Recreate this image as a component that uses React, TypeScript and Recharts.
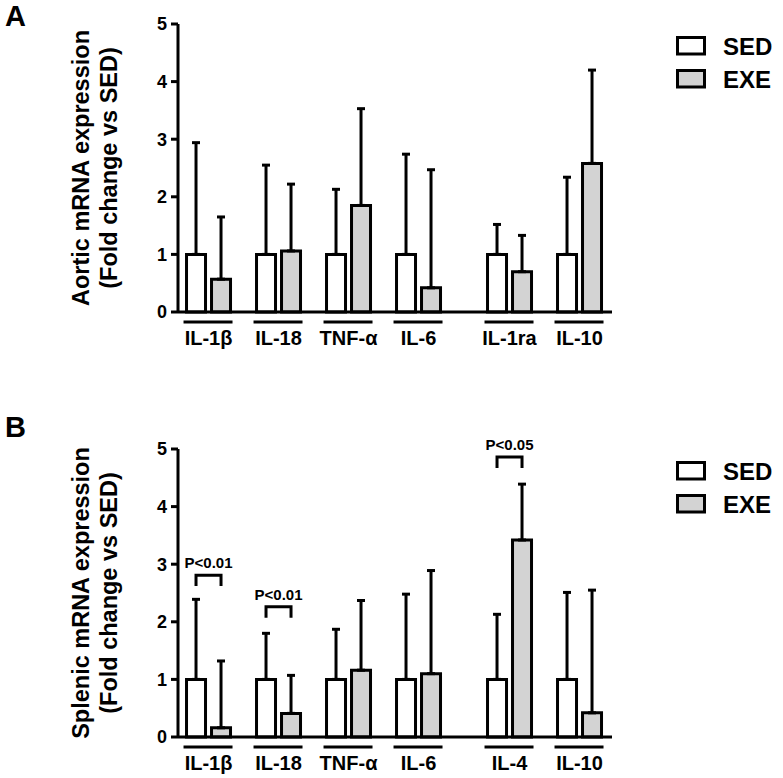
import React from "react";
import { Bar, BarChart, ErrorBar, LabelList, Legend, XAxis, YAxis } from "recharts";

const FONT = '"Liberation Sans", Arial, Helvetica, sans-serif';
const EXE_FILL = "#d3d3d3";
const BAR_SIZE = 19;
const BAR_GAP = 6;

// x slot of every cytokine group (the anti-inflammatory pair sits a bit apart)
const groupSlots = [0, 1, 2, 3, 4.3, 5.3];
const yTicks = [0, 1, 2, 3, 4, 5];
const legendOrder = ["SED", "EXE"];

// Panel A - aorta
const aorticCytokines = ["IL-1β", "IL-18", "TNF-α", "IL-6", "IL-1ra", "IL-10"];
const aorticSed = [1, 1, 1, 1, 1, 1];
const aorticSedTop = [2.94, 2.55, 2.13, 2.74, 1.52, 2.34];
const aorticExe = [0.57, 1.06, 1.85, 0.42, 0.7, 2.58];
const aorticExeTop = [1.65, 2.22, 3.53, 2.47, 1.33, 4.2];

// Panel B - spleen
const splenicCytokines = ["IL-1β", "IL-18", "TNF-α", "IL-6", "IL-4", "IL-10"];
const splenicSed = [1, 1, 1, 1, 1, 1];
const splenicSedTop = [2.39, 1.8, 1.87, 2.48, 2.13, 2.51];
const splenicExe = [0.16, 0.41, 1.16, 1.1, 3.42, 0.42];
const splenicExeTop = [1.32, 1.07, 2.37, 2.89, 4.39, 2.55];
const splenicPLabels = ["P<0.01", "P<0.01", "", "", "P<0.05", ""];
const splenicBracketTop = [2.81, 2.26, 0, 0, 4.86, 0];
const BRACKET_LEG = 0.19;

type Row = {
  slot: number;
  name: string;
  sed: number;
  sedErr: [number, number];
  exe: number;
  exeErr: [number, number];
};

function buildRows(names: string[], sed: number[], sedTop: number[], exe: number[], exeTop: number[]): Row[] {
  return names.map((name, i) => ({
    slot: groupSlots[i],
    name,
    sed: sed[i],
    sedErr: [0, sedTop[i] - sed[i]],
    exe: exe[i],
    exeErr: [0, exeTop[i] - exe[i]],
  }));
}

const aorticRows = buildRows(aorticCytokines, aorticSed, aorticSedTop, aorticExe, aorticExeTop);
const splenicRows = buildRows(splenicCytokines, splenicSed, splenicSedTop, splenicExe, splenicExeTop);

function PanelTitle(props: any) {
  const { letter, lines, letterY } = props;
  const vb = props.viewBox || { y: 0, height: 0 };
  const cy = vb.y + vb.height / 2;
  return (
    <g fontFamily={FONT} fontWeight="bold" fill="#000">
      <text x={5} y={letterY} fontSize={29}>
        {letter}
      </text>
      <text x={89} y={cy} fontSize={23.5} textAnchor="middle" transform={`rotate(-90 89 ${cy})`}>
        {lines[0]}
      </text>
      <text x={117} y={cy} fontSize={23.5} textAnchor="middle" transform={`rotate(-90 117 ${cy})`}>
        {lines[1]}
      </text>
    </g>
  );
}

function CytokineTick(props: any) {
  const { x, y, payload, names } = props;
  const idx = groupSlots.indexOf(payload.value);
  return (
    <g>
      <line x1={x - 25} x2={x + 24} y1={y + 10} y2={y + 10} stroke="#000" strokeWidth={3} />
      <text x={x} y={y + 33} textAnchor="middle" fontSize={20} fontWeight="bold" fontFamily={FONT} fill="#000">
        {names[idx]}
      </text>
    </g>
  );
}

// legend svg is padded by 6px above so the text box is not clipped
function LegendBox({ payload }: any) {
  const items = [...(payload || [])].sort(
    (a: any, b: any) => legendOrder.indexOf(a.value) - legendOrder.indexOf(b.value)
  );
  return (
    <svg width={102} height={64}>
      {items.map((entry: any, i: number) => (
        <g key={entry.value}>
          <rect x={1.5} y={7.5 + i * 33} width={27} height={16.5} fill={entry.color} stroke="#000" strokeWidth={3} />
          <text x={47} y={25 + i * 33} fontSize={24} fontWeight="bold" fontFamily={FONT} fill="#000">
            {entry.value}
          </text>
        </g>
      ))}
    </svg>
  );
}

function makeBracket(pLabels: string[], tops: number[]) {
  return (props: any) => {
    const { index, value } = props;
    if (!pLabels[index]) return null;
    const vb = props.viewBox || props;
    const base = vb.y + vb.height;
    const px = vb.height / value;
    const x1 = vb.x + vb.width / 2;
    const x2 = x1 + vb.width + BAR_GAP;
    const yTop = base - tops[index] * px;
    const yLeg = base - (tops[index] - BRACKET_LEG) * px;
    return (
      <g>
        <path d={`M${x1},${yLeg}V${yTop}H${x2}V${yLeg}`} fill="none" stroke="#000" strokeWidth={3} />
        <text x={(x1 + x2) / 2} y={yTop - 7} textAnchor="middle" fontSize={15} fontWeight="bold" fontFamily={FONT} fill="#000">
          {pLabels[index]}
        </text>
      </g>
    );
  };
}

function Panel(props: {
  rows: Row[];
  names: string[];
  height: number;
  marginTop: number;
  marginBottom: number;
  letter: string;
  letterY: number;
  titleLines: string[];
  legendTop: number;
  bracket?: (p: any) => any;
}) {
  const { rows, names, height, marginTop, marginBottom, letter, letterY, titleLines, legendTop, bracket } = props;
  return (
    <BarChart
      width={783}
      height={height}
      data={rows}
      margin={{ top: marginTop, right: 171, bottom: marginBottom, left: 118 }}
      barGap={BAR_GAP}
    >
      <XAxis
        dataKey="slot"
        type="number"
        domain={[-0.436, 5.764]}
        allowDataOverflow
        ticks={groupSlots}
        interval={0}
        height={40}
        tickLine={false}
        tickSize={0}
        tickMargin={0}
        axisLine={{ stroke: "#000", strokeWidth: 3 }}
        tick={<CytokineTick names={names} />}
      />
      <YAxis
        width={60}
        domain={[0, 5]}
        ticks={yTicks}
        interval={0}
        tickSize={7}
        tickMargin={4}
        axisLine={{ stroke: "#000", strokeWidth: 3 }}
        tickLine={{ stroke: "#000", strokeWidth: 3 }}
        tick={{ fontSize: 18, fontWeight: "bold", fill: "#000", fontFamily: FONT }}
        label={<PanelTitle letter={letter} letterY={letterY} lines={titleLines} />}
      />
      <Legend
        layout="vertical"
        align="center"
        verticalAlign="middle"
        content={<LegendBox />}
        wrapperStyle={{ left: 676, top: legendTop - 6, width: 102 }}
      />
      <Bar dataKey="sed" name="SED" fill="#ffffff" stroke="#000" strokeWidth={3} barSize={BAR_SIZE} isAnimationActive={false}>
        <ErrorBar dataKey="sedErr" direction="y" width={4} stroke="#000" strokeWidth={3} />
        {bracket ? <LabelList dataKey="sed" content={bracket} /> : null}
      </Bar>
      <Bar dataKey="exe" name="EXE" fill={EXE_FILL} stroke="#000" strokeWidth={3} barSize={BAR_SIZE} isAnimationActive={false}>
        <ErrorBar dataKey="exeErr" direction="y" width={4} stroke="#000" strokeWidth={3} />
      </Bar>
    </BarChart>
  );
}

export default function App() {
  return (
    <div style={{ position: "absolute", left: 0, top: 0, width: 783, height: 778, background: "#fff" }}>
      <Panel
        rows={aorticRows}
        names={aorticCytokines}
        height={380}
        marginTop={24}
        marginBottom={28}
        letter="A"
        letterY={26}
        titleLines={["Aortic mRNA expression", "(Fold change vs SED)"]}
        legendTop={36}
      />
      <Panel
        rows={splenicRows}
        names={splenicCytokines}
        height={398}
        marginTop={69}
        marginBottom={1}
        letter="B"
        letterY={57}
        titleLines={["Splenic mRNA expression", "(Fold change vs SED)"]}
        legendTop={81}
        bracket={makeBracket(splenicPLabels, splenicBracketTop)}
      />
    </div>
  );
}
